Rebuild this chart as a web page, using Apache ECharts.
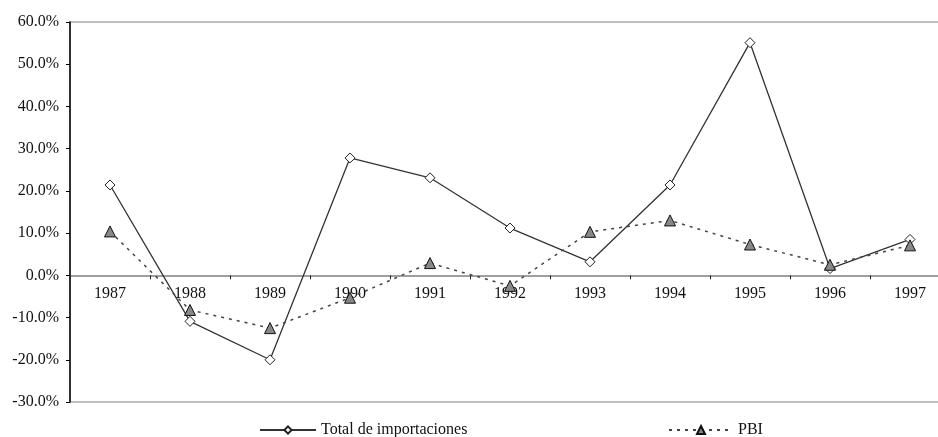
<!DOCTYPE html>
<html>
<head>
<meta charset="UTF-8">
<title>Importaciones y PBI</title>
<script src="https://cdn.jsdelivr.net/npm/echarts@6/dist/echarts.min.js"></script>
<style>
  html, body { margin: 0; padding: 0; background: #fff; overflow: hidden; }
</style>
</head>
<body>
<!-- el grafico original esta recortado a la derecha: el area de trazado sigue mas alla del borde -->
<div id="main" style="width: 950px; height: 437px;"></div>
<script type="text/javascript">
// datos (variacion anual, %)
var years = ['1987', '1988', '1989', '1990', '1991', '1992', '1993', '1994', '1995', '1996', '1997'];
var importaciones = [21.4, -10.9, -20.0, 27.8, 23.1, 11.2, 3.2, 21.4, 55.1, 1.6, 8.5];
var pbi = [10.4, -8.2, -12.5, -5.3, 2.9, -2.5, 10.3, 13.0, 7.3, 2.5, 7.1];

var fontFam = '"Liberation Serif", "Times New Roman", serif';
var chart = echarts.init(document.getElementById('main'));

// eje x sobre la linea del cero: 6 de 9 intervalos desde arriba
var gridTop = 22, gridBottom = 35;
var plotH = 437 - gridTop - gridBottom;
var zeroOffset = -(plotH * 3 / 9);

var option = {
  backgroundColor: '#fff',
  animation: false,
  textStyle: { fontFamily: fontFam },
  grid: {
    left: 70, right: 0, top: gridTop, bottom: gridBottom,
    show: true, borderColor: '#808080', borderWidth: 1
  },
  legend: [{
    data: ['Total de importaciones'],
    left: 259, top: 422, padding: [0, 0, 0, 0],
    itemWidth: 56, itemHeight: 9,
    textStyle: { fontFamily: fontFam, fontSize: 16, color: '#111' }
  }, {
    data: ['PBI'],
    left: 668, top: 422, padding: [0, 0, 0, 0],
    itemWidth: 64, itemHeight: 10,
    textStyle: { fontFamily: fontFam, fontSize: 16, color: '#111' }
  }],
  xAxis: {
    type: 'category',
    data: years,
    boundaryGap: true,
    offset: zeroOffset,
    axisLine: { onZero: false, lineStyle: { color: '#808080', width: 1.5 } },
    axisTick: { show: true, inside: false, length: 4, lineStyle: { color: '#222' } },
    axisLabel: { color: '#111', fontSize: 16, margin: 10, fontFamily: fontFam },
    splitLine: { show: false }
  },
  yAxis: {
    type: 'value',
    min: -30, max: 60, interval: 10,
    axisLine: { show: true, lineStyle: { color: '#000', width: 1.5 } },
    axisTick: { show: true, length: 4, lineStyle: { color: '#000' } },
    axisLabel: {
      color: '#111', fontSize: 16, margin: 11, fontFamily: fontFam,
      formatter: function (v) { return v.toFixed(1) + '%'; }
    },
    splitLine: { show: false }
  },
  series: [{
    name: 'Total de importaciones',
    type: 'line',
    data: importaciones,
    symbol: 'diamond',
    symbolSize: 10,
    lineStyle: { color: '#333', width: 1.3 },
    itemStyle: { color: '#fff', borderColor: '#222', borderWidth: 1 },
    z: 3
  }, {
    name: 'PBI',
    type: 'line',
    data: pbi,
    symbol: 'triangle',
    symbolSize: 11,
    lineStyle: { color: '#444', width: 1.5, type: [3, 5] },
    itemStyle: { color: '#888', borderColor: '#111', borderWidth: 1 },
    z: 4
  }]
};

chart.setOption(option);
</script>
</body>
</html>
